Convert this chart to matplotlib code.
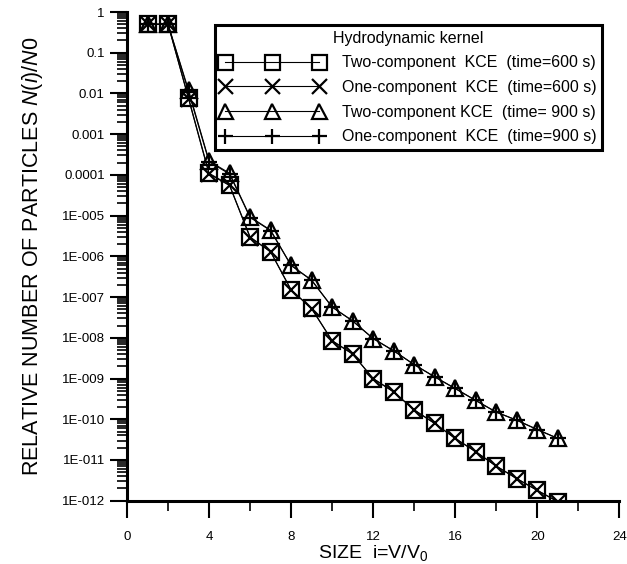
import matplotlib
matplotlib.use("Agg")
import matplotlib.pyplot as plt
from matplotlib.ticker import LogLocator, FixedLocator, NullFormatter

plt.rcParams['font.family'] = ['Liberation Sans', 'DejaVu Sans']
plt.rcParams['mathtext.fontset'] = 'custom'
plt.rcParams['mathtext.rm'] = 'Liberation Sans'
plt.rcParams['mathtext.it'] = 'Liberation Sans:italic'

# cluster size i = V/V0
size = list(range(1, 22))

# relative number of particles N(i)/N0
two_600 = [0.5, 0.5, 7.7e-3, 1.1e-4, 5.6e-5, 3.0e-6, 1.3e-6, 1.5e-7, 5.3e-8,
           8.5e-9, 4.0e-9, 1.0e-9, 4.7e-10, 1.7e-10, 7.9e-11, 3.4e-11,
           1.6e-11, 7.1e-12, 3.5e-12, 1.8e-12, 9.5e-13]
one_600 = [0.5, 0.5, 7.4e-3, 1.05e-4, 5.5e-5, 2.9e-6, 1.3e-6, 1.5e-7, 5.2e-8,
           8.5e-9, 4.0e-9, 1.0e-9, 4.7e-10, 1.7e-10, 7.9e-11, 3.4e-11,
           1.6e-11, 7.1e-12, 3.5e-12, 1.8e-12, 9.5e-13]
two_900 = [0.5, 0.5, 1.2e-2, 2.2e-4, 1.1e-4, 9.3e-6, 4.4e-6, 6.0e-7, 2.6e-7,
           5.7e-8, 2.6e-8, 9.6e-9, 4.8e-9, 2.2e-9, 1.1e-9, 5.7e-10,
           2.9e-10, 1.5e-10, 9.5e-11, 5.6e-11, 3.4e-11]
one_900 = [0.5, 0.5, 1.1e-2, 2.1e-4, 1.05e-4, 9.0e-6, 4.3e-6, 6.0e-7, 2.6e-7,
           5.7e-8, 2.6e-8, 9.6e-9, 4.8e-9, 2.2e-9, 1.1e-9, 5.7e-10,
           2.9e-10, 1.5e-10, 9.5e-11, 5.6e-11, 3.4e-11]

labels = ['Two-component  KCE  (time=600 s)',
          'One-component  KCE  (time=600 s)',
          'Two-component KCE  (time= 900 s)',
          'One-component  KCE  (time=900 s)']

y_ticks = [1e0, 1e-1, 1e-2, 1e-3, 1e-4, 1e-5, 1e-6, 1e-7, 1e-8, 1e-9,
           1e-10, 1e-11, 1e-12]
y_ticklabels = ['1', '0.1', '0.01', '0.001', '0.0001', '1E-005', '1E-006',
                '1E-007', '1E-008', '1E-009', '1E-010', '1E-011', '1E-012']
x_ticks = [0, 4, 8, 12, 16, 20, 24]

fig = plt.figure(figsize=(6.27, 5.64), dpi=100)
ax = fig.add_axes([0.2026, 0.1122, 0.785, 0.8665])

kw = dict(color='black', lw=0.8, markersize=12, markeredgewidth=1.6,
          markerfacecolor='none')
ax.plot(size, two_600, marker='s', label=labels[0], **kw)
ax.plot(size, one_600, marker='x', label=labels[1], **kw)
ax.plot(size, two_900, marker='^', label=labels[2], **kw)
ax.plot(size, one_900, marker='+', label=labels[3], **kw)

ax.set_yscale('log')
ax.set_ylim(1e-12, 1)
ax.set_xlim(0, 24)

ax.yaxis.set_major_locator(FixedLocator(y_ticks))
ax.set_yticklabels(y_ticklabels)
ax.yaxis.set_minor_locator(LogLocator(base=10, subs=range(2, 10), numticks=50))
ax.yaxis.set_minor_formatter(NullFormatter())
ax.set_xticks(x_ticks)
ax.set_xticks([2, 6, 10, 14, 18, 22], minor=True)

ax.tick_params(which='major', direction='out', length=12, width=1.5,
               labelsize=9.5)
ax.tick_params(axis='x', which='major', pad=10)
ax.tick_params(axis='y', which='major', pad=4)
ax.tick_params(which='minor', direction='out', length=7, width=1.2)

for side in ['top', 'right']:
    ax.spines[side].set_visible(False)
for side in ['left', 'bottom']:
    ax.spines[side].set_linewidth(2.2)

ax.set_xlabel('SIZE  i=V/V$_0$', fontsize=14, labelpad=0)
ax.set_ylabel(r'RELATIVE NUMBER OF PARTICLES $\mathit{N(i)/N0}$',
              fontsize=15.5, labelpad=12)

leg = ax.legend(loc='upper right', bbox_to_anchor=(0.965, 0.973),
                borderaxespad=0, numpoints=3, fontsize=11.5,
                title='Hydrodynamic kernel', title_fontsize=11.5,
                fancybox=False, edgecolor='black', framealpha=1,
                handlelength=6.5, handletextpad=1.1, labelspacing=0.6,
                borderpad=0.35, markerscale=0.9)
leg.get_frame().set_linewidth(2.2)

fig.savefig('out.png', dpi=100)
